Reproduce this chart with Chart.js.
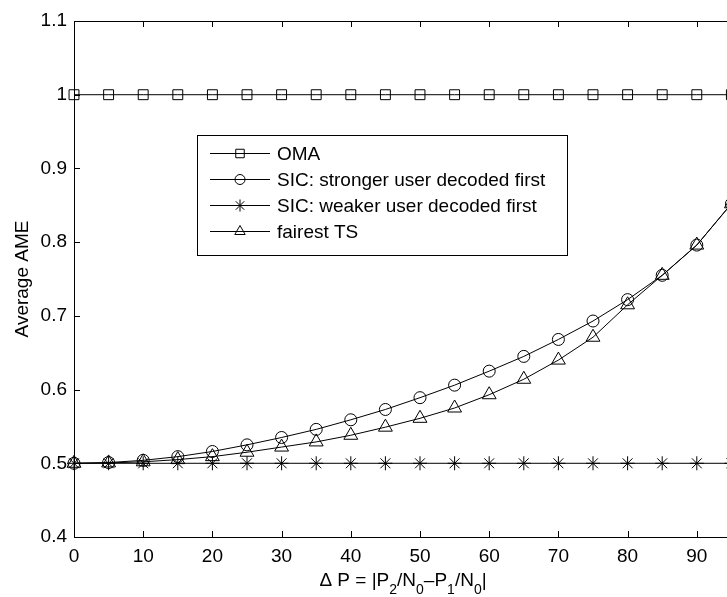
<!DOCTYPE html>
<html>
<head>
<meta charset="utf-8">
<script src="https://cdn.jsdelivr.net/npm/chart.js@4/dist/chart.umd.min.js"></script>
<style>
  html, body { margin: 0; padding: 0; background: #fff; overflow: hidden; }
  #wrap { width: 800px; height: 597px; }
</style>
</head>
<body>
<div id="wrap"><canvas id="ameChart" width="800" height="597"></canvas></div>
<script>
// x values (Delta P) and the four curves
const deltaP = [0, 5, 10, 15, 20, 25, 30, 35, 40, 45, 50, 55, 60, 65, 70, 75, 80, 85, 90, 95];
const omaValues = [1, 1, 1, 1, 1, 1, 1, 1, 1, 1, 1, 1, 1, 1, 1, 1, 1, 1, 1, 1];
const sicStrongValues = [0.5, 0.501, 0.504, 0.509, 0.516, 0.525, 0.535, 0.546, 0.559, 0.573,
  0.589, 0.606, 0.625, 0.645, 0.668, 0.693, 0.722, 0.755, 0.796, 0.852];
const sicWeakValues = [0.5, 0.5, 0.5, 0.5, 0.5, 0.5, 0.5, 0.5, 0.5, 0.5,
  0.5, 0.5, 0.5, 0.5, 0.5, 0.5, 0.5, 0.5, 0.5, 0.5];
const fairestTsValues = [0.5, 0.5005, 0.502, 0.505, 0.509, 0.515, 0.522, 0.529, 0.538, 0.549,
  0.561, 0.575, 0.593, 0.614, 0.640, 0.671, 0.715, 0.755, 0.796, 0.852];

const seriesLabels = ['OMA', 'SIC: stronger user decoded first', 'SIC: weaker user decoded first', 'fairest TS'];
const xRange = [0, 100];
const yRange = [0.4, 1.1];

const FONT = "'Liberation Sans', Arial, Helvetica, sans-serif";
Chart.defaults.font.family = FONT;
Chart.defaults.font.size = 19;
Chart.defaults.color = '#000';

const toPoints = vals => vals.map((v, i) => ({ x: deltaP[i], y: v }));

function series(label, vals, style, radius) {
  return {
    label,
    data: toPoints(vals),
    borderColor: '#000',
    borderWidth: 1,
    pointStyle: style,
    pointRadius: radius,
    pointHoverRadius: radius,
    pointBorderColor: '#000',
    pointBorderWidth: 1,
    pointBackgroundColor: 'rgba(0,0,0,0)',
    tension: 0,
    clip: false
  };
}

// frame + inward tick marks, matlab style
const framePlugin = {
  id: 'frame',
  afterDraw(chart) {
    const { ctx, chartArea: a, scales } = chart;
    ctx.save();
    ctx.strokeStyle = '#000';
    ctx.lineWidth = 1;
    ctx.strokeRect(Math.round(a.left) + 0.5, Math.round(a.top) + 0.5,
      Math.round(a.right - a.left), Math.round(a.bottom - a.top));
    const len = 6;
    ctx.beginPath();
    scales.x.ticks.forEach(t => {
      const px = Math.round(scales.x.getPixelForValue(t.value)) + 0.5;
      ctx.moveTo(px, a.bottom); ctx.lineTo(px, a.bottom - len);
      ctx.moveTo(px, a.top); ctx.lineTo(px, a.top + len);
    });
    scales.y.ticks.forEach(t => {
      const py = Math.round(scales.y.getPixelForValue(t.value)) + 0.5;
      ctx.moveTo(a.left, py); ctx.lineTo(a.left + len, py);
      ctx.moveTo(a.right, py); ctx.lineTo(a.right - len, py);
    });
    ctx.stroke();

    // y title
    ctx.fillStyle = '#000';
    ctx.font = '19px ' + FONT;
    ctx.textAlign = 'center';
    ctx.textBaseline = 'middle';
    ctx.save();
    ctx.translate(23, (a.top + a.bottom) / 2);
    ctx.rotate(-Math.PI / 2);
    ctx.fillText('Average AME', 0, 0);
    ctx.restore();

    // x title with subscripts
    const parts = [['\u0394 P = |P', 0], ['2', 1], ['/N', 0], ['0', 1], ['\u2013P', 0], ['1', 1], ['/N', 0], ['0', 1], ['|', 0]];
    const big = '19px ' + FONT, small = '14px ' + FONT;
    let total = 0;
    parts.forEach(([s, sub]) => { ctx.font = sub ? small : big; total += ctx.measureText(s).width; });
    let x = 403 - total / 2;
    const base = 586;
    ctx.textAlign = 'left';
    ctx.textBaseline = 'alphabetic';
    parts.forEach(([s, sub]) => {
      ctx.font = sub ? small : big;
      ctx.fillText(s, x, sub ? base + 8 : base);
      x += ctx.measureText(s).width;
    });
    ctx.restore();
  }
};

// legend box inside the axes
const legendPlugin = {
  id: 'boxLegend',
  afterDraw(chart) {
    const { ctx } = chart;
    const box = { x: 197, y: 135, w: 370, h: 120 };
    ctx.save();
    ctx.fillStyle = '#fff';
    ctx.fillRect(box.x, box.y, box.w, box.h);
    ctx.strokeStyle = '#000';
    ctx.lineWidth = 1;
    ctx.strokeRect(box.x + 0.5, box.y + 0.5, box.w, box.h);
    const legendRadius = [6, 5, 6, 6];
    chart.data.datasets.forEach((ds, i) => {
      const y = box.y + 18.5 + i * 26;
      ctx.beginPath();
      ctx.moveTo(210, y); ctx.lineTo(270, y);
      ctx.strokeStyle = '#000';
      ctx.stroke();
      ctx.fillStyle = 'rgba(0,0,0,0)';
      ctx.strokeStyle = '#000';
      Chart.helpers.drawPoint(ctx, {
        pointStyle: ds.pointStyle, radius: legendRadius[i], borderWidth: 1, rotation: 0
      }, 240, y);
      ctx.fillStyle = '#000';
      ctx.font = '19px ' + FONT;
      ctx.textAlign = 'left';
      ctx.textBaseline = 'middle';
      ctx.fillText(ds.label, 277, y + 1);
    });
    ctx.restore();
  }
};

new Chart(document.getElementById('ameChart'), {
  type: 'line',
  data: {
    datasets: [
      series(seriesLabels[0], omaValues, 'rect', 7),
      series(seriesLabels[1], sicStrongValues, 'circle', 6),
      series(seriesLabels[2], sicWeakValues, 'star', 7),
      series(seriesLabels[3], fairestTsValues, 'triangle', 8)
    ]
  },
  options: {
    responsive: false,
    animation: false,
    layout: { padding: { left: 0, top: 21, right: 34, bottom: 0 } },
    plugins: { legend: { display: false }, tooltip: { enabled: false } },
    scales: {
      x: {
        type: 'linear',
        min: xRange[0], max: xRange[1],
        ticks: { stepSize: 10, padding: 8, maxRotation: 0 },
        grid: { display: false, drawTicks: false },
        border: { display: false },
        afterFit: s => { s.height = 60; }
      },
      y: {
        type: 'linear',
        min: yRange[0], max: yRange[1],
        ticks: { stepSize: 0.1, padding: 7, callback: v => String(Number(v.toFixed(1))) },
        grid: { display: false, drawTicks: false },
        border: { display: false },
        afterFit: s => { s.width = 74; }
      }
    }
  },
  plugins: [framePlugin, legendPlugin]
});
</script>
</body>
</html>
